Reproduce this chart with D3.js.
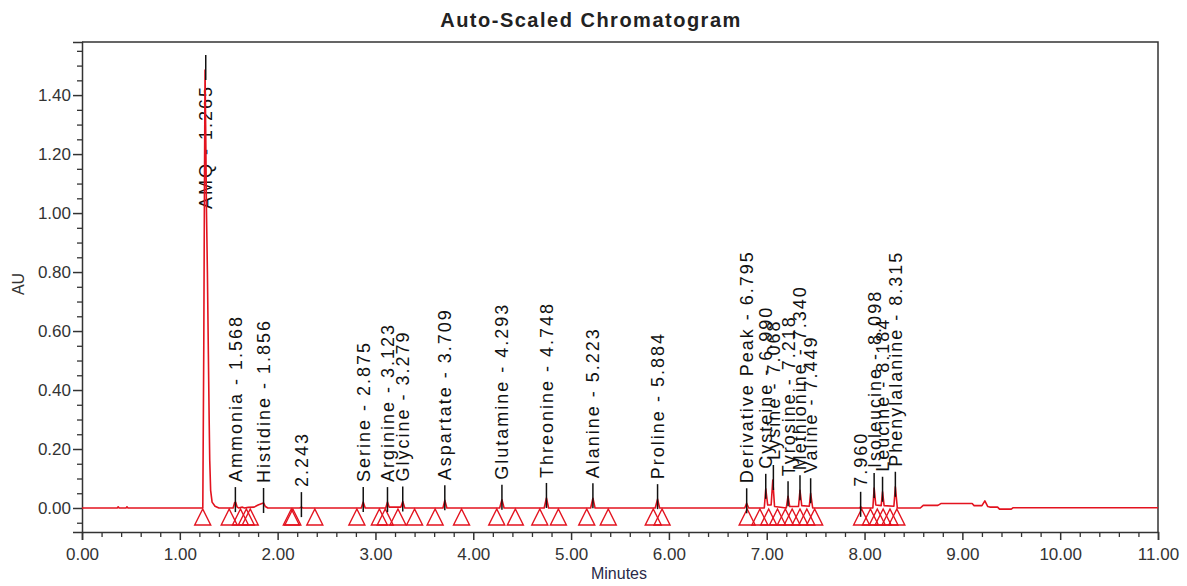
<!DOCTYPE html>
<html>
<head>
<meta charset="utf-8">
<script src="https://cdn.jsdelivr.net/npm/d3@7"></script>
<style>
  html, body { margin: 0; padding: 0; background: #ffffff; }
  svg { display: block; }
</style>
</head>
<body>
<script>
// ---------- DATA ----------
const chartTitle = "Auto-Scaled Chromatogram";
const xAxisTitle = "Minutes";
const yAxisTitle = "AU";

const xTickValues = [0, 1, 2, 3, 4, 5, 6, 7, 8, 9, 10, 11];
const yTickValues = [0.0, 0.2, 0.4, 0.6, 0.8, 1.0, 1.2, 1.4];

// detector trace (minutes, AU)
const traceTime = [
  0.00, 0.36, 0.37, 0.38, 0.45, 0.46, 0.47,
  1.235, 1.245, 1.252, 1.258, 1.264, 1.272, 1.282, 1.292, 1.300, 1.306, 1.315, 1.330, 1.360, 1.400,
  1.545, 1.560, 1.570, 1.585, 1.600, 1.640, 1.660, 1.700, 1.760, 1.800, 1.840, 1.856, 1.875, 1.900,
  2.225, 2.243, 2.260,
  2.855, 2.875, 2.895,
  3.105, 3.123, 3.140, 3.260, 3.279, 3.300,
  3.690, 3.709, 3.730,
  4.270, 4.293, 4.315,
  4.725, 4.748, 4.770,
  5.200, 5.223, 5.245,
  5.860, 5.884, 5.905,
  6.775, 6.795, 6.815,
  6.975, 6.990, 7.010, 7.045, 7.062, 7.080,
  7.200, 7.218, 7.235, 7.325, 7.340, 7.358, 7.435, 7.449, 7.470,
  7.950, 7.960, 7.975,
  8.085, 8.098, 8.115, 8.170, 8.184, 8.200, 8.300, 8.315, 8.335,
  8.570, 8.600, 8.750, 8.780, 9.100, 9.120, 9.200, 9.230, 9.260, 9.280, 9.360, 9.380, 9.500, 9.520,
  11.00
];
const traceAU = [
  0, 0, 0.004, 0, 0, 0.004, 0,
  0, 0.55, 1.10, 1.485, 1.30, 1.02, 0.80, 0.52, 0.30, 0.16, 0.06, 0.02, 0.006, 0,
  0, 0.018, 0.020, 0.004, 0, 0.003, 0, 0.002, 0.003, 0.010, 0.015, 0.017, 0.005, 0,
  0, 0.003, 0,
  0, 0.020, 0,
  0, 0.020, 0.003, 0.003, 0.022, 0,
  0, 0.026, 0,
  0, 0.028, 0,
  0, 0.034, 0,
  0, 0.033, 0,
  0, 0.030, 0,
  0, 0.016, 0,
  0, 0.065, 0.010, 0.010, 0.095, 0.005,
  0, 0.040, 0.005, 0.005, 0.060, 0.008, 0.006, 0.050, 0,
  0, 0.004, 0,
  0, 0.068, 0.010, 0.008, 0.055, 0.008, 0.006, 0.072, 0,
  0, 0.009, 0.009, 0.015, 0.015, 0.008, 0.008, 0.024, 0.005, 0.003, 0.003, -0.004, -0.004, 0.001,
  0.001
];

// named peaks
const peakNames = [
  "AMQ", "Ammonia", "Histidine", "", "Serine", "Arginine", "Glycine", "Aspartate",
  "Glutamine", "Threonine", "Alanine", "Proline", "Derivative Peak", "Cysteine",
  "Lysine", "Tyrosine", "Methionine", "Valine", "", "Isoleucine", "Leucine", "Phenylalanine"
];
const peakTimes = [
  1.265, 1.568, 1.856, 2.243, 2.875, 3.123, 3.279, 3.709,
  4.293, 4.748, 5.223, 5.884, 6.795, 6.990,
  7.068, 7.218, 7.340, 7.449, 7.960, 8.098, 8.184, 8.315
];

// integration start / end markers (minutes)
const markerTimes = [
  1.234, 1.505, 1.62, 1.68, 1.72, 2.14, 2.155, 2.38, 2.81, 3.04, 3.10, 3.23, 3.40,
  3.61, 3.88, 4.24, 4.43, 4.68, 4.87, 5.16, 5.38, 5.84, 5.93,
  6.80, 6.93, 7.02, 7.11, 7.19, 7.26, 7.34, 7.41, 7.49,
  7.97, 8.06, 8.13, 8.19, 8.26, 8.33
];

// ---------- DRAWING ----------
(function () {
const W = 1187, H = 586;
const pL = 82, pR = 1158, pT = 42, pB = 532;
const yMin = -0.0814, yMax = 1.58;
const red = "#e3131f";
const font = "'Liberation Sans', Arial, sans-serif";

const svg = d3.select("body").append("svg").attr("width", W).attr("height", H)
  .style("font-family", font);

const x = d3.scaleLinear().domain([0, 11]).range([pL, pR]);
const y = d3.scaleLinear().domain([yMin, yMax]).range([pB, pT]);

// title
svg.append("text").attr("x", 591).attr("y", 27).attr("text-anchor", "middle")
  .attr("font-size", 20).attr("font-weight", "bold").attr("letter-spacing", "1.5px")
  .attr("fill", "#222").text(chartTitle);

// frame top / right
svg.append("path")
  .attr("d", `M${pL},${pT}H${pR}V${pB}`)
  .attr("fill", "none").attr("stroke", "#333").attr("stroke-width", 1.5);

// x axis minor
const xMinor = d3.range(0, 55).map(i => i * 0.2).filter(v => Math.abs(v - Math.round(v)) > 1e-6);
svg.append("g").attr("transform", `translate(0,${pB})`)
  .call(d3.axisBottom(x).tickValues(xMinor).tickSize(5).tickFormat(""))
  .call(g => g.select(".domain").remove())
  .selectAll("line").attr("stroke", "#333").attr("stroke-width", 1.3);

// x axis major
const gx = svg.append("g").attr("transform", `translate(0,${pB})`)
  .call(d3.axisBottom(x).tickValues(xTickValues).tickSize(8).tickPadding(8).tickFormat(d3.format(".2f")));
gx.select(".domain").attr("stroke", "#333").attr("stroke-width", 1.5);
gx.selectAll("line").attr("stroke", "#333").attr("stroke-width", 1.5);
gx.selectAll("text").attr("font-size", 17).attr("fill", "#333").style("font-family", font);

// y axis minor
const yMinor = d3.range(-1, 32).map(i => i * 0.05).filter(v => Math.abs(v * 5 - Math.round(v * 5)) > 1e-6);
svg.append("g").attr("transform", `translate(${pL},0)`)
  .call(d3.axisLeft(y).tickValues(yMinor).tickSize(5).tickFormat(""))
  .call(g => g.select(".domain").remove())
  .selectAll("line").attr("stroke", "#333").attr("stroke-width", 1.3);

// y axis major
const gy = svg.append("g").attr("transform", `translate(${pL},0)`)
  .call(d3.axisLeft(y).tickValues(yTickValues).tickSize(9).tickPadding(2).tickFormat(d3.format(".2f")));
gy.select(".domain").attr("stroke", "#333").attr("stroke-width", 1.5);
gy.selectAll("line").attr("stroke", "#333").attr("stroke-width", 1.5);
gy.selectAll("text").attr("font-size", 17).attr("fill", "#333").style("font-family", font);

// axis titles
svg.append("text").attr("transform", `translate(24,284) rotate(-90)`)
  .attr("text-anchor", "middle").attr("font-size", 16).attr("fill", "#333").text(yAxisTitle);
svg.append("text").attr("x", 619).attr("y", 579).attr("text-anchor", "middle")
  .attr("font-size", 16).attr("fill", "#2a2a48").text(xAxisTitle);

// peak apex heights
const trace = traceTime.map((t, i) => [t, traceAU[i]]);
function apexOf(t) {
  let m = 0;
  trace.forEach(([tt, v]) => { if (Math.abs(tt - t) <= 0.02 && v > m) m = v; });
  return m;
}
const peaks = peakTimes.map((t, i) => ({
  t, name: peakNames[i],
  label: peakNames[i] ? `${peakNames[i]} - ${t.toFixed(3)}` : t.toFixed(3),
  apex: apexOf(t)
}));

// labels
const labelG = svg.append("g");
peaks.forEach(p => {
  const px = x(p.t);
  const ay = y(p.apex);
  const txt = labelG.append("text")
    .attr("font-size", 18).attr("letter-spacing", "2px").attr("fill", "#111")
    .attr("dy", "0.36em").text(p.label);
  const len = txt.node().getComputedTextLength();
  let start = ay - 20;
  p.lineTop = ay - 15;
  p.lineBottom = ay + 10;
  if (start - len < pT + 40) start = pT + 43 + len;
  txt.attr("transform", `translate(${px},${start}) rotate(-90)`);
});

// trace
const line = d3.line().x(d => x(d[0])).y(d => y(d[1]));
svg.append("path").datum(trace).attr("d", line)
  .attr("fill", "none").attr("stroke", red).attr("stroke-width", 1.6)
  .attr("stroke-linejoin", "round");

// integration markers (triangles)
svg.append("g").selectAll("path").data(markerTimes).join("path")
  .attr("d", t => {
    const cx = x(t), ty = y(0) + 1;
    return `M${cx},${ty}L${cx - 8},${ty + 16}L${cx + 8},${ty + 16}Z`;
  })
  .attr("fill", "none").attr("stroke", red).attr("stroke-width", 1.4);

// peak tick marks
svg.append("g").selectAll("line").data(peaks).join("line")
  .attr("x1", d => x(d.t)).attr("x2", d => x(d.t))
  .attr("y1", d => d.lineTop).attr("y2", d => d.lineBottom)
  .attr("stroke", "#111").attr("stroke-width", 1.5);
})();
</script>
</body>
</html>
